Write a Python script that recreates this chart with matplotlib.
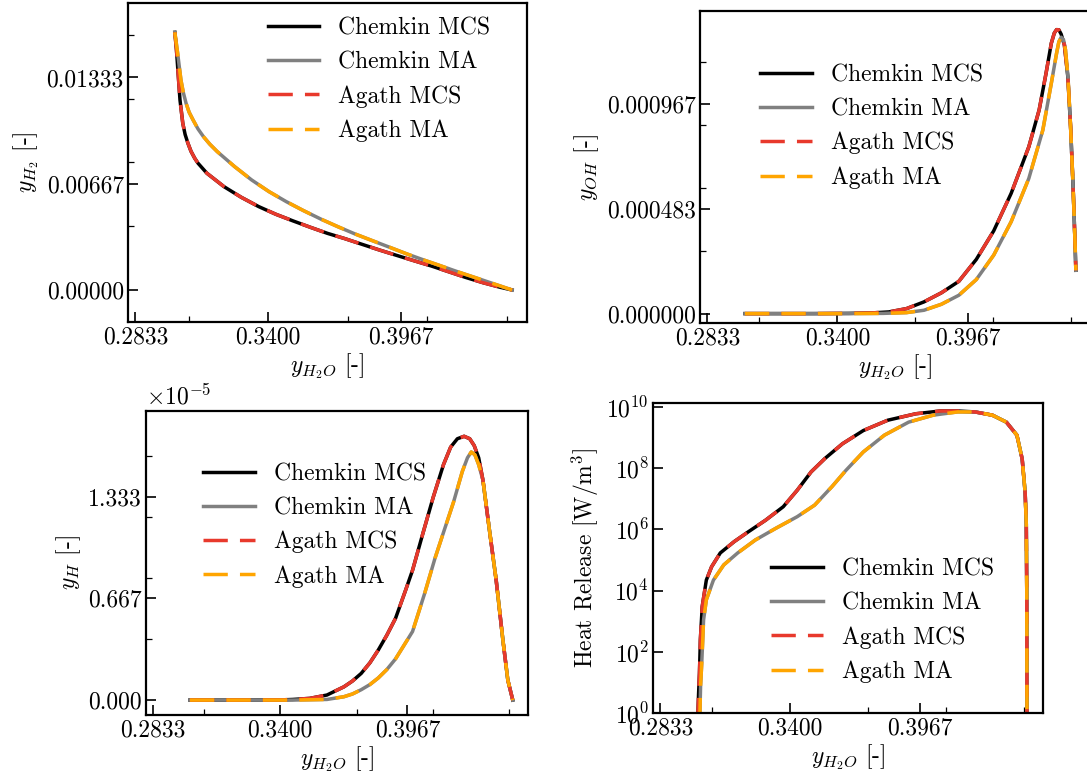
import numpy as np
import matplotlib
matplotlib.use('Agg')
import matplotlib.pyplot as plt
from matplotlib.ticker import NullLocator

plt.rcParams['font.family'] = 'serif'
plt.rcParams['font.serif'] = ['cmr10']
plt.rcParams['mathtext.fontset'] = 'cm'
plt.rcParams['axes.formatter.use_mathtext'] = True
plt.rcParams['axes.unicode_minus'] = False

# x axis: water mass fraction y_H2O
x_ticks = [0.2833, 0.3400, 0.3967]
x_tick_labels = ['0.2833', '0.3400', '0.3967']
x_minor = [0.3060, 0.3740, 0.4080, 0.4420]

# H2 mass fraction
x_h2_mcs = [0.3001, 0.3008, 0.3016, 0.3023, 0.3035, 0.3045, 0.3057, 0.3070, 0.3086, 0.3100,
            0.3138, 0.3211, 0.3285, 0.3359, 0.3432, 0.3506, 0.3580, 0.3653, 0.3727, 0.3801,
            0.3874, 0.3948, 0.4021, 0.4095, 0.4169, 0.4242, 0.4316, 0.4390, 0.4441]
y_h2_mcs = [0.01616, 0.01505, 0.01338, 0.01192, 0.01045, 0.00975, 0.00920, 0.00870, 0.00826, 0.00795,
            0.00732, 0.00648, 0.00581, 0.00523, 0.00475, 0.00433, 0.00393, 0.00355, 0.00322, 0.00286,
            0.00251, 0.00217, 0.00184, 0.00151, 0.00115, 0.00079, 0.00046, 0.00017, 0.0]
x_h2_ma = [0.3001, 0.3013, 0.3027, 0.3037, 0.3049, 0.3062, 0.3079, 0.3100, 0.3123, 0.3150,
           0.3182, 0.3256, 0.3329, 0.3403, 0.3477, 0.3550, 0.3624, 0.3697, 0.3771, 0.3845,
           0.3918, 0.3992, 0.4066, 0.4139, 0.4213, 0.4287, 0.4360, 0.4441]
y_h2_ma = [0.01616, 0.01485, 0.01317, 0.01240, 0.01171, 0.01115, 0.01066, 0.01010, 0.00962, 0.00915,
           0.00868, 0.00774, 0.00690, 0.00617, 0.00554, 0.00498, 0.00445, 0.00397, 0.00351, 0.00309,
           0.00268, 0.00226, 0.00187, 0.00150, 0.00112, 0.00076, 0.00040, 0.0]
h2_ticks = [0.0, 0.00667, 0.01333]
h2_tick_labels = ['0.00000', '0.00667', '0.01333']
h2_minor = [0.004, 0.008, 0.012, 0.016]

# OH mass fraction
x_oh_mcs = [0.2997, 0.3150, 0.3300, 0.3450, 0.3548, 0.3624, 0.3701, 0.3777, 0.3853, 0.3929,
            0.4005, 0.4081, 0.4157, 0.4234, 0.4279, 0.4309, 0.4332, 0.4345, 0.4355, 0.4365,
            0.4375, 0.4389, 0.4404, 0.4416, 0.4427, 0.4435, 0.4439]
y_oh_mcs = [0.0, 0.0, 0.0, 0.000001, 0.000003, 0.0000077, 0.000023, 0.000054, 0.000096, 0.000149,
            0.000250, 0.000382, 0.000555, 0.000770, 0.000940, 0.001109, 0.001248, 0.001295, 0.001311, 0.001310,
            0.001290, 0.001240, 0.001094, 0.000863, 0.000585, 0.000339, 0.000200]
x_oh_ma = [0.2997, 0.3150, 0.3300, 0.3450, 0.3600, 0.3701, 0.3777, 0.3853, 0.3929, 0.4005,
           0.4081, 0.4157, 0.4234, 0.4295, 0.4332, 0.4355, 0.4365, 0.4375, 0.4385, 0.4394,
           0.4405, 0.4416, 0.4427, 0.4435, 0.4439]
y_oh_ma = [0.0, 0.0, 0.0, 0.0, 0.000001, 0.0000046, 0.0000154, 0.0000431, 0.0000847, 0.000157,
           0.000270, 0.000424, 0.000624, 0.000847, 0.001063, 0.001202, 0.001255, 0.001276, 0.001265, 0.001217,
           0.001086, 0.000863, 0.000585, 0.000339, 0.000200]
oh_ticks = [0.0, 0.000483, 0.000967]
oh_tick_labels = ['0.000000', '0.000483', '0.000967']
oh_minor = [0.00029, 0.00058, 0.00087, 0.00116]

# H mass fraction (x 1e-5)
x_h_mcs = [0.2997, 0.3226, 0.3400, 0.3455, 0.3531, 0.3608, 0.3684, 0.3722, 0.3761, 0.3800,
           0.3837, 0.3875, 0.3914, 0.3959, 0.3990, 0.4036, 0.4082, 0.4128, 0.4160, 0.4190,
           0.4220, 0.4245, 0.4265, 0.4285, 0.4304, 0.4333, 0.4363, 0.4393, 0.4415, 0.4437]
y_h_mcs = [0.0, 0.0, 0.001, 0.004, 0.011, 0.033, 0.087, 0.125, 0.175, 0.245,
           0.328, 0.425, 0.536, 0.721, 0.852, 1.093, 1.330, 1.545, 1.660, 1.715,
           1.731, 1.715, 1.670, 1.590, 1.443, 1.115, 0.787, 0.394, 0.131, 0.0]
x_h_ma = [0.2997, 0.3226, 0.3455, 0.3608, 0.3684, 0.3722, 0.3761, 0.3800, 0.3837, 0.3875,
          0.3914, 0.3950, 0.3990, 0.4044, 0.4090, 0.4128, 0.4173, 0.4212, 0.4235, 0.4252,
          0.4268, 0.4285, 0.4304, 0.4333, 0.4363, 0.4393, 0.4415, 0.4437]
y_h_ma = [0.0, 0.0, 0.0, 0.004, 0.022, 0.040, 0.068, 0.102, 0.145, 0.200,
          0.270, 0.355, 0.450, 0.700, 0.930, 1.100, 1.300, 1.500, 1.590, 1.628,
          1.610, 1.545, 1.443, 1.115, 0.787, 0.394, 0.131, 0.0]
h_scale = 1e-5
h_ticks = [0.0, 0.667, 1.333]
h_tick_labels = ['0.000', '0.667', '1.333']
h_minor = [0.4, 0.8, 1.2, 1.6]

# heat release [W/m3]
x_hr_mcs = [0.2996, 0.3000, 0.3004, 0.3008, 0.3016, 0.3034, 0.3057, 0.3095, 0.3156, 0.3217,
            0.3293, 0.3370, 0.3431, 0.3492, 0.3553, 0.3629, 0.3720, 0.3827, 0.3949, 0.4055,
            0.4132, 0.4208, 0.4284, 0.4345, 0.4391, 0.4414, 0.4427, 0.4432, 0.4434, 0.4435]
y_hr_mcs = [0.5, 4, 2e1, 2.5e2, 3e3, 2.2e4, 6e4, 1.7e5, 4e5, 8.3e5,
            2e6, 5.5e6, 1.9e7, 7.6e7, 2.1e8, 6.3e8, 1.7e9, 3.7e9, 6e9, 7.4e9,
            7.4e9, 6.9e9, 5.4e9, 3.2e9, 1.2e9, 2e8, 1.6e7, 1.5e6, 1e4, 0.5]
x_hr_ma = [0.3005, 0.3009, 0.3014, 0.3022, 0.3034, 0.3065, 0.3110, 0.3171, 0.3248, 0.3339,
           0.3431, 0.3507, 0.3583, 0.3644, 0.3720, 0.3812, 0.3918, 0.4025, 0.4132, 0.4208,
           0.4284, 0.4345, 0.4391, 0.4414, 0.4427, 0.4432, 0.4434, 0.4435]
y_hr_ma = [0.5, 8, 4.3e1, 1.1e3, 5e3, 2.2e4, 6.9e4, 1.7e5, 4.5e5, 1.1e6,
           2.6e6, 6.2e6, 2.5e7, 8.5e7, 3.4e8, 1.2e9, 3.2e9, 5.4e9, 6.9e9, 6.9e9,
           5.4e9, 3.2e9, 1.2e9, 2e8, 1.6e7, 1.5e6, 1e4, 0.5]

labels = ['Chemkin MCS', 'Chemkin MA', 'Agath MCS', 'Agath MA']
colors = ['black', 'grey', '#e8392c', '#ffa500']
styles = ['-', '-', '--', '--']

W, H = 1087, 776
fig = plt.figure(figsize=(W / 100, H / 100), dpi=100)


def px_axes(left, top, right, bottom):
    return fig.add_axes([left / W, 1 - bottom / H, (right - left) / W, (bottom - top) / H])


def draw(ax, xm, ym, xa, ya):
    data = [(xm, ym), (xa, ya), (xm, ym), (xa, ya)]
    for (x, y), lab, c, ls in zip(data, labels, colors, styles):
        if ls == '--':
            ax.plot(x, y, color=c, lw=2.5, ls=ls, dashes=(7, 3.5), label=lab)
        else:
            ax.plot(x, y, color=c, lw=2.5, ls=ls, label=lab)
    ax.set_xlim(0.2801, 0.4505)
    ax.set_xticks(x_ticks)
    ax.set_xticklabels(x_tick_labels)
    ax.set_xticks(x_minor, minor=True)
    ax.tick_params(which='both', direction='in', top=False, right=False, labelsize=17, pad=3)
    ax.tick_params(which='major', length=7, width=1.2)
    ax.tick_params(which='minor', length=4, width=0.9)
    for s in ax.spines.values():
        s.set_linewidth(1.6)
    ax.set_xlabel(r'$y_{H_2O}$ [-]', fontsize=17, labelpad=2)


ax1 = px_axes(128, 3, 527, 322)
draw(ax1, x_h2_mcs, y_h2_mcs, x_h2_ma, y_h2_ma)
ax1.set_ylim(-0.00201, 0.0180)
ax1.set_yticks(h2_ticks)
ax1.set_yticklabels(h2_tick_labels)
ax1.set_yticks(h2_minor, minor=True)
ax1.set_ylabel(r'$y_{H_2}$ [-]', fontsize=17)
ax1.legend(loc='upper left', bbox_to_anchor=(0.326, 0.985), frameon=False, fontsize=17,
           handlelength=2.2, borderaxespad=0)

ax2 = px_axes(700, 11, 1091, 323)
draw(ax2, x_oh_mcs, y_oh_mcs, x_oh_ma, y_oh_ma)
ax2.set_ylim(-0.0000434, 0.001397)
ax2.set_yticks(oh_ticks)
ax2.set_yticklabels(oh_tick_labels)
ax2.set_yticks(oh_minor, minor=True)
ax2.set_ylabel(r'$y_{OH}$ [-]', fontsize=17)
ax2.legend(loc='upper left', bbox_to_anchor=(0.129, 0.86), frameon=False, fontsize=17,
           handlelength=2.2, borderaxespad=0)

ax3 = px_axes(146, 411, 528, 715)
draw(ax3, x_h_mcs, np.array(y_h_mcs) * h_scale, x_h_ma, np.array(y_h_ma) * h_scale)
ax3.set_ylim(-0.098 * h_scale, 1.897 * h_scale)
ax3.set_yticks(np.array(h_ticks) * h_scale)
ax3.set_yticklabels(h_tick_labels)
ax3.set_yticks(np.array(h_minor) * h_scale, minor=True)
ax3.set_ylabel(r'$y_{H}$ [-]', fontsize=17)
ax3.text(0.0, 1.005, r'$\times10^{-5}$', transform=ax3.transAxes, ha='left', va='bottom', fontsize=17)
ax3.legend(loc='upper left', bbox_to_anchor=(0.125, 0.86), frameon=False, fontsize=17,
           handlelength=2.2, borderaxespad=0)

ax4 = px_axes(653, 403, 1043, 713)
draw(ax4, x_hr_mcs, y_hr_mcs, x_hr_ma, y_hr_ma)
ax4.set_yscale('log')
ax4.set_ylim(1, 1.35e10)
ax4.set_yticks([1e0, 1e2, 1e4, 1e6, 1e8, 1e10])
ax4.yaxis.set_minor_locator(NullLocator())
ax4.tick_params(which='both', direction='in', labelsize=17, pad=3)
ax4.set_ylabel('Heat Release [W/m$^3$]', fontsize=17)
ax4.legend(loc='upper left', bbox_to_anchor=(0.278, 0.53), frameon=False, fontsize=17,
           handlelength=2.2, borderaxespad=0)

fig.savefig('out.png', dpi=100)
